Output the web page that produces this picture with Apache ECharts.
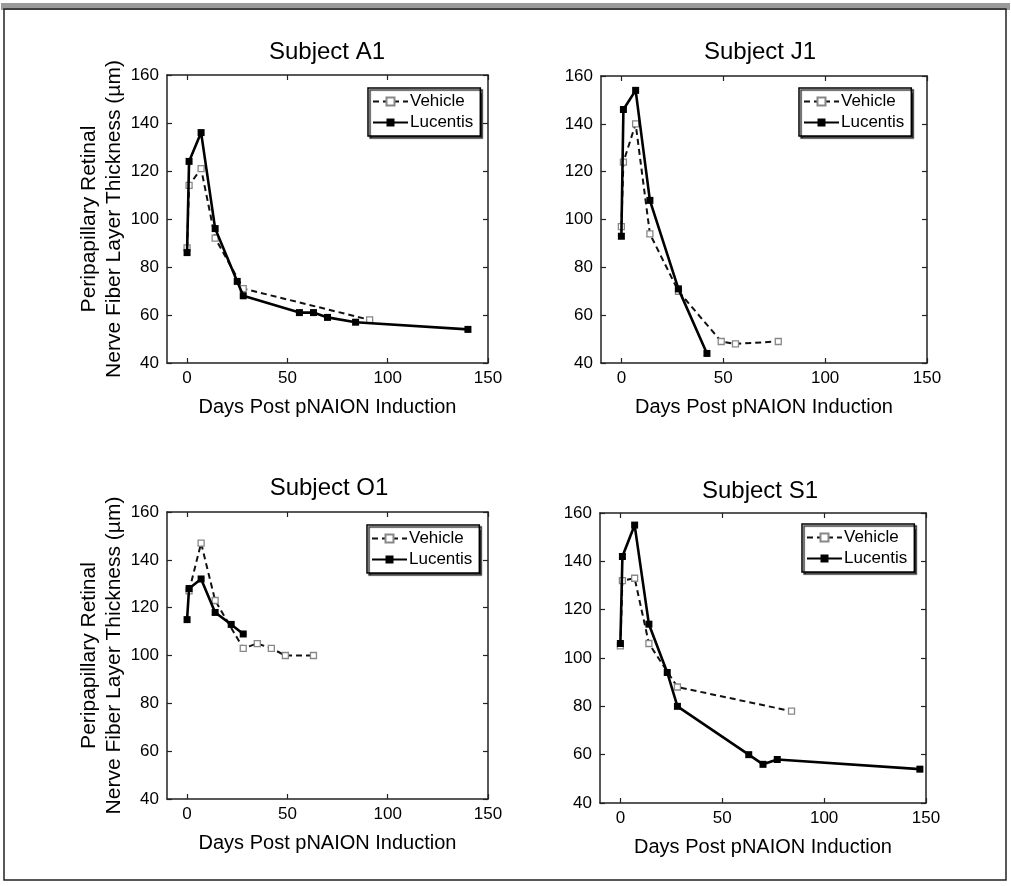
<!DOCTYPE html>
<html><head><meta charset="utf-8">
<script src="https://cdn.jsdelivr.net/npm/echarts@6/dist/echarts.min.js"></script>
<style>html,body{margin:0;padding:0;background:#fff}#c{width:1011px;height:886px}</style>
</head><body><div id="c"></div>
<script>
// ---- data ----
const xTicks = [0, 50, 100, 150];
const subjects = ['Subject A1', 'Subject J1', 'Subject O1', 'Subject S1'];
const seriesNames = ['Vehicle', 'Lucentis'];
const xName = 'Days Post pNAION Induction';
const yName = 'Peripapillary Retinal\nNerve Fiber Layer Thickness (µm)';

const a1VehicleDays = [0, 1, 7, 14, 28, 91];
const a1VehicleVals = [88, 114, 121, 92, 71, 58];
const a1LucentisDays = [0, 1, 7, 14, 25, 28, 56, 63, 70, 84, 140];
const a1LucentisVals = [86, 124, 136, 96, 74, 68, 61, 61, 59, 57, 54];

const j1VehicleDays = [0, 1, 7, 14, 28, 49, 56, 77];
const j1VehicleVals = [97, 124, 140, 94, 70, 49, 48, 49];
const j1LucentisDays = [0, 1, 7, 14, 28, 42];
const j1LucentisVals = [93, 146, 154, 108, 71, 44];

const o1VehicleDays = [1, 7, 14, 28, 35, 42, 49, 63];
const o1VehicleVals = [127, 147, 123, 103, 105, 103, 100, 100];
const o1LucentisDays = [0, 1, 7, 14, 22, 28];
const o1LucentisVals = [115, 128, 132, 118, 113, 109];

const s1VehicleDays = [0, 1, 7, 14, 28, 84];
const s1VehicleVals = [105, 132, 133, 106, 88, 78];
const s1LucentisDays = [0, 1, 7, 14, 23, 28, 63, 70, 77, 147];
const s1LucentisVals = [106, 142, 155, 114, 94, 80, 60, 56, 58, 54];

// ---- layout ----
const F = 'Liberation Sans, Arial, sans-serif';
const panels = [
  {g:{left:167, top:75, width:321, height:288}, title:[322, 35], legend:[368, 88], yName:true,
   v:[a1VehicleDays, a1VehicleVals], l:[a1LucentisDays, a1LucentisVals]},
  {g:{left:601, top:76, width:326, height:287}, title:[755, 35], legend:[799, 88], yName:false,
   v:[j1VehicleDays, j1VehicleVals], l:[j1LucentisDays, j1LucentisVals]},
  {g:{left:167, top:512, width:321, height:287}, title:[324, 471], legend:[367, 525], yName:true,
   v:[o1VehicleDays, o1VehicleVals], l:[o1LucentisDays, o1LucentisVals]},
  {g:{left:600, top:513, width:326, height:290}, title:[755, 474], legend:[802, 524], yName:false,
   v:[s1VehicleDays, s1VehicleVals], l:[s1LucentisDays, s1LucentisVals]}
];

const axisLine = {show:true, onZero:false, lineStyle:{color:'#222', width:1.5}};
const tickStyle = {color:'#222', width:1.2};
const grid = [], xAxis = [], yAxis = [], series = [], title = [], legend = [];

panels.forEach((p, i) => {
  grid.push(Object.assign({containLabel:false}, p.g));
  title.push({text: subjects[i], left: p.title[0], top: p.title[1], textAlign:'center',
    textStyle:{fontFamily:F, fontSize:24, fontWeight:'normal', color:'#000'}});
  legend.push({left:p.legend[0], top:p.legend[1], orient:'vertical', data:seriesNames,
    itemWidth:35, itemHeight:10, itemGap:4, padding:[5,7,5,4],
    borderColor:'#000', borderWidth:1.5, backgroundColor:'#fff',
    shadowColor:'rgba(0,0,0,0.8)', shadowOffsetX:2, shadowOffsetY:2, shadowBlur:1,
    selectedMode:false,
    textStyle:{fontFamily:F, fontSize:17, color:'#000', padding:[0,0,0,-3]}});
  const xb = xAxis.length, yb = yAxis.length;
  xAxis.push({type:'value', gridIndex:i, min:-10, max:150, position:'bottom',
    axisLine, splitLine:{show:false},
    axisTick:{show:true, inside:true, length:5, customValues:xTicks, lineStyle:tickStyle},
    axisLabel:{customValues:xTicks, color:'#000', fontSize:17, fontFamily:F, margin:7},
    name:xName, nameLocation:'middle', nameGap:34,
    nameTextStyle:{fontFamily:F, fontSize:20, color:'#000'}});
  xAxis.push({type:'value', gridIndex:i, min:-10, max:150, position:'top',
    axisLine, splitLine:{show:false},
    axisTick:{show:true, inside:true, length:5, customValues:xTicks, lineStyle:tickStyle},
    axisLabel:{show:false}});
  const yMain = {type:'value', gridIndex:i, min:40, max:160, interval:20, position:'left',
    axisLine, splitLine:{show:false},
    axisTick:{show:true, inside:true, length:5, lineStyle:tickStyle},
    axisLabel:{color:'#000', fontSize:17, fontFamily:F, margin:8}};
  if (p.yName) {
    Object.assign(yMain, {name:yName, nameLocation:'middle', nameGap:40,
      nameTextStyle:{fontFamily:F, fontSize:21, color:'#000', lineHeight:25}});
  }
  yAxis.push(yMain);
  yAxis.push({type:'value', gridIndex:i, min:40, max:160, interval:20, position:'right',
    axisLine, splitLine:{show:false},
    axisTick:{show:true, inside:true, length:5, lineStyle:tickStyle},
    axisLabel:{show:false}});
  series.push({name:seriesNames[0], type:'line', xAxisIndex:xb, yAxisIndex:yb,
    data:p.v[0].map((d,k)=>[d, p.v[1][k]]),
    symbol:'rect', symbolSize:6, showSymbol:true,
    lineStyle:{color:'#111', width:2, type:[6,4]},
    itemStyle:{color:'#fff', borderColor:'#888', borderWidth:1.3},
    emphasis:{disabled:true}, animation:false, z:3});
  series.push({name:seriesNames[1], type:'line', xAxisIndex:xb, yAxisIndex:yb,
    data:p.l[0].map((d,k)=>[d, p.l[1][k]]),
    symbol:'rect', symbolSize:7, showSymbol:true,
    lineStyle:{color:'#000', width:2.6},
    itemStyle:{color:'#000', borderColor:'#000', borderWidth:0},
    emphasis:{disabled:true}, animation:false, z:4});
});

const chart = echarts.init(document.getElementById('c'), null, {renderer:'canvas'});
chart.setOption({
  backgroundColor:'#fff',
  animation:false,
  title, legend, grid, xAxis, yAxis, series,
  graphic:[
    {type:'rect', shape:{x:1, y:3, width:1009, height:7}, style:{fill:'#9a9a9a'}, z:-1},
    {type:'rect', shape:{x:4, y:9, width:1002, height:871}, style:{fill:'none', stroke:'#222', lineWidth:1.5}, z:-1}
  ]
});
</script></body></html>
